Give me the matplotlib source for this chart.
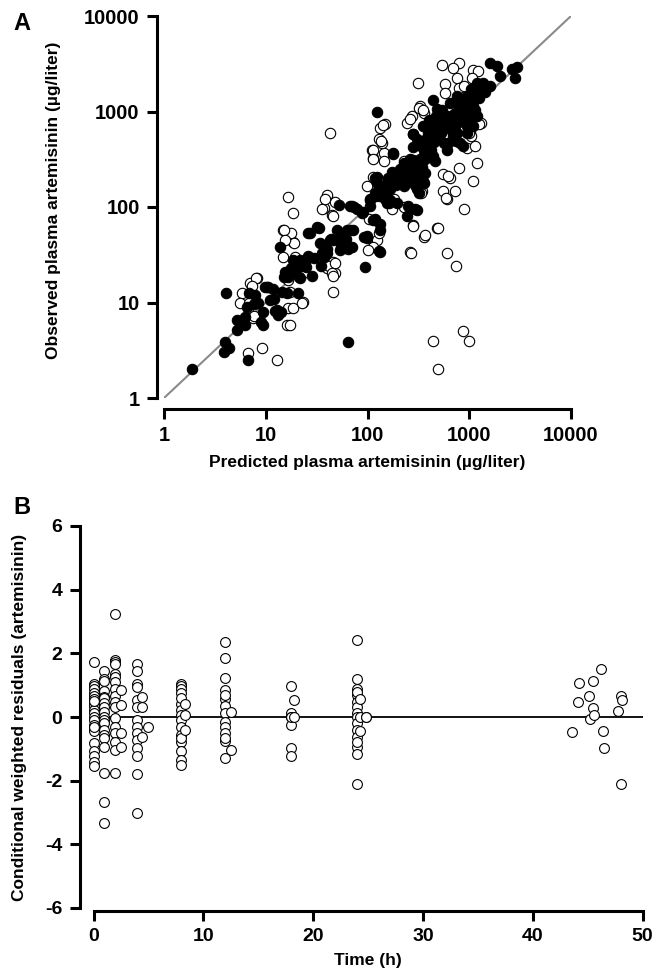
import matplotlib
matplotlib.use('Agg')
import matplotlib.pyplot as plt
import numpy as np

plt.rcParams['font.family'] = ['Liberation Sans', 'DejaVu Sans']
plt.rcParams['font.weight'] = 'bold'
plt.rcParams['axes.unicode_minus'] = False

# panel A: predicted vs observed (ug/liter)
filled_pred = [1.9, 3.9, 4.0, 4.4, 4.1, 5.2, 5.2, 6.7, 6.5, 6.3,
               7.8, 8.4, 9.5, 9.5, 9.8, 11.9, 11.0, 12.8, 13.3, 14.4,
               15.5, 13.8, 16.7, 19.4, 21.0, 25.0, 21.7, 27.3, 31.6, 34.0,
               39.8, 46.3, 53.8, 65.0, 70.0, 62.8, 6.3, 6.9, 7.6, 9.0,
               10.6, 12.2, 14.1, 16.0, 20.6, 17.9, 18.7, 21.6, 26.0, 28.7,
               34.6, 36.0, 44.0, 55.0, 61.0, 64.0, 72.0, 10.2, 95, 133,
               26.3, 33, 43, 54, 67, 98, 54, 37, 25, 18.7,
               15, 73, 91, 106, 114, 133, 144, 167, 123, 154,
               208, 243, 283, 330, 305, 180, 226, 283, 356, 283,
               344, 125, 180, 283, 262, 305, 194, 226, 167, 133,
               106, 123, 305, 356, 251, 67, 78, 133, 98, 50,
               58, 480, 445, 413, 520, 604, 650, 755, 878, 1020,
               1190, 1380, 1600, 1100, 810, 604, 700, 560, 380, 330,
               445, 1600, 1860, 2000, 2640, 2950, 2830, 1190, 940, 755,
               243, 154, 194, 352, 390, 405, 445, 490, 540, 445,
               510, 560, 620, 640, 710, 780, 740, 860, 940, 820,
               940, 900, 995, 1090, 1150, 1050, 1200, 1370, 1250, 1440,
               277, 305, 336, 277, 370, 465, 118, 118, 150, 164,
               198, 218, 230, 252, 291, 320, 352, 370, 291, 89,
               107, 118, 130, 93, 53, 70,
               160, 175, 190, 210, 240, 260, 280, 300, 320, 340,
               360, 390, 420, 450, 480, 500, 530, 560, 600, 620,
               650, 680, 720, 750, 780, 800, 850, 880, 920, 960,
               1000, 1050, 1100, 1150, 1250, 1300, 470, 420, 380, 700,
               900, 1000, 250, 200, 145, 120, 30, 40, 22, 12]
filled_obs = [2.0, 3.0, 3.9, 3.3, 12.5, 6.6, 5.1, 2.5, 9.0, 5.8,
              12.0, 9.8, 8.0, 5.8, 14.6, 14.0, 10.6, 8.3, 7.4, 13.0,
              21.0, 38.0, 18.6, 21.9, 18.6, 23.7, 27.9, 53.0, 62.0, 41.7,
              32.7, 45.0, 49.0, 3.9, 38.0, 57.0, 7.0, 12.7, 9.6, 6.2,
              14.6, 8.2, 7.9, 12.7, 12.7, 23.0, 28.0, 18.0, 31.0, 19.0,
              24.0, 33.0, 46.0, 39.0, 46.0, 36.0, 58.0, 14.6, 23.7, 34,
              53, 60, 45, 53, 57, 47, 35.5, 30, 27.9, 21.9,
              18.6, 100, 89, 118, 73, 67, 139, 118, 207, 177,
              207, 192, 225, 192, 93, 365, 286, 310, 395, 428,
              310, 988, 356, 577, 316, 248, 195, 180, 153, 130,
              120, 180, 153, 180, 102, 102, 95, 58, 50, 58,
              42, 1050, 765, 600, 705, 900, 1235, 1450, 1050, 1340,
              1700, 2000, 1850, 1140, 470, 400, 765, 470, 435, 316,
              342, 3250, 3000, 2350, 2770, 2900, 2260, 900, 705, 600,
              80, 111, 111, 700, 600, 810, 670, 855, 1030, 1310,
              550, 670, 470, 735, 940, 815, 490, 435, 600, 1230,
              1450, 1030, 885, 700, 1030, 1700, 1990, 1820, 1380, 1610,
              575, 510, 435, 303, 315, 303, 202, 141, 120, 110,
              194, 210, 167, 187, 171, 141, 187, 226, 95, 87,
              102, 74, 35, 49, 106, 102,
              200, 230, 170, 250, 230, 210, 260, 230, 280, 260,
              350, 380, 400, 480, 560, 650, 600, 760, 700, 850,
              650, 900, 700, 1000, 900, 1100, 800, 1250, 950, 1150,
              1500, 1250, 1550, 1400, 1600, 1900, 900, 700, 520, 560,
              760, 800, 280, 210, 150, 130, 29, 36, 24, 11]

open_pred = [6.75, 9.1, 12.8, 5.8, 5.6, 6.75, 7.5, 7.0, 8.2, 16.0,
             17.3, 16.7, 18.7, 23.4, 17.3, 16.7, 19.4, 16.0, 18.7, 14.9,
             46.3, 48.0, 39.8, 46.3, 23.4, 6.9, 7.6, 14.7, 17.9, 19.0,
             42.0, 48.0, 16.7, 18.7, 15.0, 15.5, 39.8, 48, 37, 44.6,
             44.6, 118, 123, 114, 102, 114, 144, 110, 114, 283,
             262, 356, 480, 344, 226, 540, 790, 700, 315, 1100,
             1230, 755, 580, 790, 880, 1060, 580, 330, 356, 275,
             150, 133, 243, 262, 138, 114, 114, 144, 226, 1190,
             1100, 790, 555, 650, 555, 730, 604, 878, 495, 283,
             370, 940, 1290, 1020, 604, 43, 740, 445, 490, 860,
             995, 98, 104, 130, 130, 136, 143, 157, 173, 182,
             265, 305, 336, 320, 352, 1050, 995, 620, 590, 1250,
             1130, 40, 36, 46, 46, 38, 8.0, 7.3, 22.6]
open_obs = [2.94, 3.3, 2.5, 12.5, 9.8, 8.7, 6.8, 15.9, 17.9, 5.8,
            5.8, 8.7, 8.7, 10.2, 13.0, 17.2, 30.0, 51.0, 43.0, 57.0,
            26.7, 20.2, 23.0, 13.0, 20.2, 10.0, 7.2, 30.0, 54.0, 42.0,
            24.0, 26.0, 128, 86, 57, 45, 128, 114, 97, 82,
            20.2, 73, 45, 38, 35.5, 207, 365, 395, 323, 65,
            34, 49, 60, 146, 100, 3050, 3250, 2870, 2000, 2750,
            2650, 2260, 1930, 1770, 1850, 2260, 1575, 1140, 970, 900,
            735, 676, 765, 828, 470, 400, 316, 303, 303, 291,
            187, 258, 220, 203, 147, 147, 120, 95, 61, 64,
            51, 418, 765, 600, 33, 600, 24, 4.0, 2.0, 5.0,
            4.0, 167, 74, 54, 510, 490, 725, 158, 95, 120,
            33, 158, 141, 1100, 1030, 550, 600, 210, 125, 735,
            435, 134, 95, 80, 19, 120, 18.2, 15.0, 10.0]

axis_ticks_a = [1, 10, 100, 1000, 10000]
axis_labels_a = ['1', '10', '100', '1000', '10000']

# panel B: CWRES vs time
cwres_times = [0, 1, 2, 2.5, 4, 4.4, 5, 8, 8.3, 12, 12.5, 18, 18.3, 24, 24.3, 24.8]
cwres_groups = [
    [1.72, 1.05, 0.97, 0.89, 0.76, 0.65, 0.58, 0.44, 0.34, 0.23, 0.13, 0.0,
     -0.08, -0.24, -0.35, -0.45, -0.82, -1.08, -1.24, -1.40, -1.53, 0.50, -0.30],
    [1.45, 1.20, 1.14, 0.82, 0.64, 0.60, 0.45, 0.30, 0.16, 0.01, -0.10, -0.20,
     -0.41, -0.55, -0.67, -0.93, -1.76, -2.68, -3.32],
    [3.22, 1.78, 1.72, 1.67, 1.34, 1.27, 1.10, 0.89, 0.65, 0.48, 0.30, -0.04,
     -0.30, -0.51, -0.80, -1.03, -1.76],
    [0.84, 0.37, -0.51, -0.95],
    [1.68, 1.45, 1.05, 0.95, 0.53, 0.30, -0.09, -0.30, -0.51, -0.72, -0.98,
     -1.24, -1.79, -3.03],
    [0.64, 0.30, -0.63],
    [-0.32],
    [1.05, 0.97, 0.89, 0.74, 0.42, 0.22, 0.07, -0.09, -0.32, -0.56, -0.77,
     -1.08, -1.34, -1.50, -0.65, 0.60],
    [0.42, 0.07, -0.40],
    [2.35, 1.86, 1.24, 0.84, 0.58, 0.34, 0.13, -0.15, -0.30, -0.51, -0.74,
     -1.30, 0.70, -0.65],
    [-1.05, 0.15],
    [0.97, 0.11, 0.0, -0.25, -0.98, -1.22, 0.0],
    [0.53, 0.0],
    [2.43, 1.18, 0.89, 0.68, 0.48, 0.30, 0.12, 0.0, -0.20, -0.41, -0.62,
     -0.93, -1.17, -2.10, 0.80, -0.80],
    [0.55, 0.0, -0.45],
    [0.0, 0.0],
]
late_time = [43.6, 44.1, 44.2, 45.1, 45.2, 45.5, 45.5, 45.6, 46.2, 46.4, 46.5, 47.8, 48.0, 48.1, 48.0]
late_res = [-0.48, 0.46, 1.07, 0.65, -0.05, 0.28, 1.12, 0.07, 1.51, -0.45, -0.98, 0.20, 0.67, 0.52, -2.11]

W, H = 654, 973
fig = plt.figure(figsize=(W / 100, H / 100), dpi=100)

# ---- panel A
ax1 = fig.add_axes([164 / W, 1 - 398 / H, 407 / W, 382 / H])
ax1.set_xscale('log')
ax1.set_yscale('log')
ax1.plot([1, 10000], [1, 10000], color='#8a8a8a', lw=1.5, zorder=1)
ax1.scatter(open_pred, open_obs, s=56, facecolor='white', edgecolor='black', lw=0.8, zorder=2, clip_on=False)
ax1.scatter(filled_pred, filled_obs, s=56, facecolor='black', edgecolor='black', lw=0.8, zorder=3, clip_on=False)
ax1.set_xlim(1, 10000)
ax1.set_ylim(1, 10000)
ax1.set_xticks(axis_ticks_a)
ax1.set_xticklabels(axis_labels_a)
ax1.set_yticks(axis_ticks_a)
ax1.set_yticklabels(axis_labels_a)
ax1.minorticks_off()
ax1.spines['left'].set_position(('outward', 5))
ax1.spines['bottom'].set_position(('outward', 8))

# ---- panel B
ax2 = fig.add_axes([93.5 / W, 1 - 908 / H, 549 / W, 382 / H])
ax2.axhline(0, color='black', lw=1.3, zorder=1)
for t, vals in zip(cwres_times, cwres_groups):
    ax2.scatter([t] * len(vals), vals, s=50, facecolor='white', edgecolor='black',
                lw=0.8, zorder=2, clip_on=False)
ax2.scatter(late_time, late_res, s=50, facecolor='white', edgecolor='black', lw=0.8, zorder=2, clip_on=False)
ax2.set_xlim(0, 50)
ax2.set_ylim(-6, 6)
ax2.set_xticks([0, 10, 20, 30, 40, 50])
ax2.set_yticks([-6, -4, -2, 0, 2, 4, 6])
ax2.spines['left'].set_position(('outward', 10))
ax2.spines['bottom'].set_position(('outward', 2))

for ax in (ax1, ax2):
    for s in ('top', 'right'):
        ax.spines[s].set_visible(False)
    for s in ('left', 'bottom'):
        ax.spines[s].set_linewidth(2.2)
    ax.tick_params(length=7.5, width=2.2, labelsize=14.5, pad=5)
    for lab in ax.get_xticklabels() + ax.get_yticklabels():
        lab.set_fontweight('bold')

ax2.tick_params(labelsize=14)

# axis titles
fig.text(367 / W, 1 - 463 / H, 'Predicted plasma artemisinin (µg/liter)',
         ha='center', va='center', fontsize=12.5, fontweight='bold')
fig.text(54 / W, 1 - 200 / H, 'Observed plasma artemisinin (µg/liter)',
         ha='center', va='center', rotation=90, fontsize=12.5, fontweight='bold')
fig.text(368 / W, 1 - 960 / H, 'Time (h)',
         ha='center', va='center', fontsize=12.5, fontweight='bold')
fig.text(20 / W, 1 - 717 / H, 'Conditional weighted residuals (artemisinin)',
         ha='center', va='center', rotation=90, fontsize=12.5, fontweight='bold')
fig.text(22 / W, 1 - 23 / H, 'A', ha='center', va='center', fontsize=17, fontweight='bold')
fig.text(22 / W, 1 - 507 / H, 'B', ha='center', va='center', fontsize=17, fontweight='bold')

fig.savefig('out.png', dpi=100)
